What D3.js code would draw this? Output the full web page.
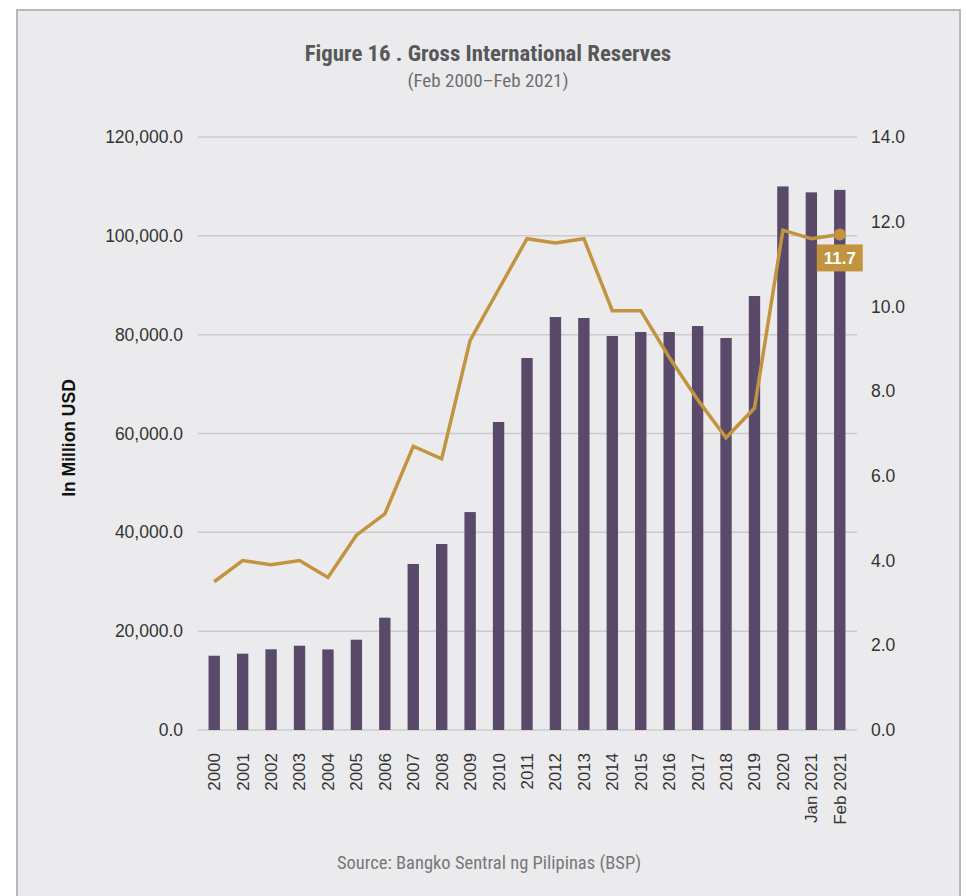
<!DOCTYPE html>
<html>
<head>
<meta charset="utf-8">
<script src="https://cdn.jsdelivr.net/npm/d3@7"></script>
<style>
  html, body { margin: 0; padding: 0; background: #ffffff; }
  svg { display: block; }
</style>
</head>
<body>
<svg id="chart" width="966" height="896"></svg>
<script>
// Gross international reserves (USD million) and import cover (months)
const categories = ["2000","2001","2002","2003","2004","2005","2006","2007","2008","2009",
  "2010","2011","2012","2013","2014","2015","2016","2017","2018","2019","2020","Jan 2021","Feb 2021"];
const reserves = [15030, 15450, 16330, 17060, 16300, 18270, 22730, 33600, 37640, 44100,
  62330, 75280, 83570, 83370, 79730, 80540, 80540, 81750, 79330, 87820, 110000, 108800, 109300];
const importCover = [3.5, 4.0, 3.9, 4.0, 3.6, 4.6, 5.1, 6.7, 6.4, 9.2,
  10.4, 11.6, 11.5, 11.6, 9.9, 9.9, 8.8, 7.8, 6.9, 7.6, 11.8, 11.6, 11.7];
const leftTicks = [0, 20000, 40000, 60000, 80000, 100000, 120000];
const rightTicks = [0, 2, 4, 6, 8, 10, 12, 14];

const svg = d3.select("#chart");
const narrow = "'Liberation Sans Narrow', 'Roboto Condensed', 'DejaVu Sans Condensed', sans-serif";
const sans = "'Liberation Sans', Arial, Helvetica, sans-serif";

// panel
svg.append("rect").attr("x", 17).attr("y", 10).attr("width", 943).attr("height", 900)
  .attr("fill", "#ebebed").attr("stroke", "#b8b8ba").attr("stroke-width", 2);

const x = d3.scaleBand().domain(categories).range([200, 854]).paddingInner(0.6).paddingOuter(0.3);
const yL = d3.scaleLinear().domain([0, 120000]).range([730, 137]);
const yR = d3.scaleLinear().domain([0, 14]).range([730, 137]);

// gridlines
svg.append("g").selectAll("line").data(leftTicks).join("line")
  .attr("x1", 198).attr("x2", 857)
  .attr("y1", d => yL(d)).attr("y2", d => yL(d))
  .attr("stroke", "#cbcbcd").attr("stroke-width", 1.5);

// left axis
const leftAxis = svg.append("g").attr("transform", "translate(183,0)")
  .call(d3.axisLeft(yL).tickValues(leftTicks).tickSize(0).tickPadding(0)
    .tickFormat(d => d3.format(",.1f")(d)));
leftAxis.select(".domain").remove();
leftAxis.selectAll("text").attr("font-family", sans).attr("font-size", 17.5).attr("fill", "#333");

// right axis
const rightAxis = svg.append("g").attr("transform", "translate(871,0)")
  .call(d3.axisRight(yR).tickValues(rightTicks).tickSize(0).tickPadding(0)
    .tickFormat(d3.format(".1f")));
rightAxis.select(".domain").remove();
rightAxis.selectAll("text").attr("font-family", sans).attr("font-size", 17.5).attr("fill", "#333");

// bars
svg.append("g").selectAll("rect").data(categories).join("rect")
  .attr("x", d => x(d))
  .attr("width", x.bandwidth())
  .attr("y", (d, i) => yL(reserves[i]))
  .attr("height", (d, i) => yL(0) - yL(reserves[i]))
  .attr("fill", "#5a4a69");

// x axis labels
const bottomAxis = svg.append("g").attr("transform", "translate(0,730)")
  .call(d3.axisBottom(x).tickSize(0).tickPadding(0));
bottomAxis.select(".domain").remove();
bottomAxis.selectAll("text")
  .attr("font-family", sans).attr("font-size", 17).attr("fill", "#333")
  .attr("transform", "rotate(-90)")
  .attr("text-anchor", "end")
  .attr("x", -23).attr("y", 0).attr("dy", "0.35em");

// import cover line
const line = d3.line()
  .x((d, i) => x(categories[i]) + x.bandwidth() / 2)
  .y(d => yR(d));
svg.append("path").datum(importCover)
  .attr("d", line).attr("fill", "none")
  .attr("stroke", "#c3943f").attr("stroke-width", 3.5).attr("stroke-linejoin", "miter");

// last point marker and label
const lastIdx = importCover.length - 1;
const lx = x(categories[lastIdx]) + x.bandwidth() / 2;
const ly = yR(importCover[lastIdx]);
svg.append("circle").attr("cx", lx).attr("cy", ly).attr("r", 6).attr("fill", "#c3943f");
svg.append("rect").attr("x", lx - 23).attr("y", ly + 10).attr("width", 46).attr("height", 27)
  .attr("fill", "#c3943f");
svg.append("text").attr("x", lx).attr("y", ly + 30).attr("text-anchor", "middle")
  .attr("font-family", sans).attr("font-weight", "bold").attr("font-size", 17)
  .attr("fill", "#ffffff").text(d3.format(".1f")(importCover[lastIdx]));

// axis title
svg.append("text").attr("transform", "translate(75,438) rotate(-90)")
  .attr("text-anchor", "middle").attr("font-family", sans).attr("font-weight", "bold")
  .attr("font-size", 17.5).attr("fill", "#111").text("In Million USD");

// titles
svg.append("text").attr("x", 488).attr("y", 61).attr("text-anchor", "middle")
  .attr("font-family", narrow).attr("font-weight", "bold").attr("font-size", 22.8)
  .attr("fill", "#58585a").text("Figure 16 . Gross International Reserves");
svg.append("text").attr("x", 488).attr("y", 87).attr("text-anchor", "middle")
  .attr("font-family", narrow).attr("font-size", 19)
  .attr("fill", "#6e6e70").text("(Feb 2000–Feb 2021)");

// source
svg.append("text").attr("x", 489).attr("y", 869).attr("text-anchor", "middle")
  .attr("font-family", narrow).attr("font-size", 18.5)
  .attr("fill", "#77777a").text("Source: Bangko Sentral ng Pilipinas (BSP)");
</script>
</body>
</html>
